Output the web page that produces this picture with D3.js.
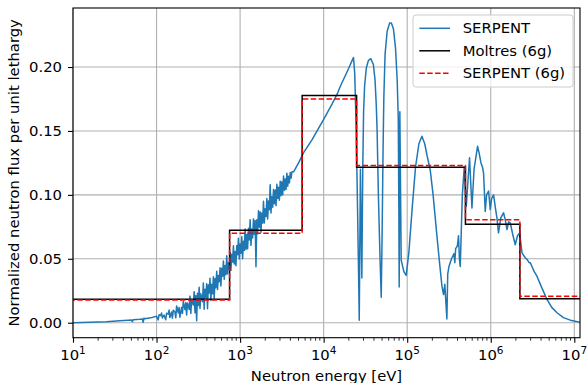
<!DOCTYPE html>
<html>
<head>
<meta charset="utf-8">
<script src="https://cdn.jsdelivr.net/npm/d3@7"></script>
<style>
  body { margin: 0; background: #fff; }
  text { font-family: "DejaVu Sans", sans-serif; }
</style>
</head>
<body>
<div id="chart"></div>
<script>
// continuous SERPENT spectrum (energy given as log10 of eV)
const serpentLog10E = [
  1.00, 1.20, 1.40, 1.56, 1.66, 1.70, 1.71, 1.72, 1.80, 1.83, 1.84, 1.85, 1.86, 1.93,
  2.00, 2.02, 2.03, 2.05, 2.06, 2.07, 2.09, 2.11, 2.12, 2.14, 2.15, 2.16, 2.18, 2.19,
  2.20, 2.22, 2.23, 2.24, 2.26, 2.27, 2.28, 2.30, 2.31, 2.32, 2.34, 2.35, 2.36, 2.37,
  2.39, 2.40, 2.41, 2.42, 2.44, 2.45, 2.46, 2.47, 2.48, 2.49, 2.50, 2.51, 2.52, 2.53,
  2.55, 2.56, 2.57, 2.58, 2.59, 2.60, 2.61, 2.62, 2.63, 2.64, 2.65, 2.66, 2.67, 2.68,
  2.69, 2.70, 2.71, 2.72, 2.73, 2.74, 2.75, 2.76, 2.77, 2.78, 2.79, 2.80, 2.81, 2.82,
  2.83, 2.84, 2.85, 2.86, 2.87, 2.88, 2.89, 2.90, 2.91, 2.92, 2.93, 2.94, 2.95, 2.96,
  2.97, 2.98, 2.99, 3.00, 3.01, 3.02, 3.03, 3.04, 3.05, 3.06, 3.07, 3.08, 3.09, 3.10,
  3.11, 3.12, 3.13, 3.14, 3.15, 3.16, 3.17, 3.18, 3.19, 3.20, 3.21, 3.22, 3.23, 3.24,
  3.25, 3.26, 3.27, 3.28, 3.29, 3.30, 3.31, 3.32, 3.33, 3.34, 3.35, 3.36, 3.37, 3.38,
  3.39, 3.40, 3.41, 3.42, 3.43, 3.44, 3.45, 3.46, 3.47, 3.48, 3.49, 3.50, 3.51, 3.52,
  3.53, 3.54, 3.55, 3.56, 3.57, 3.58, 3.59, 3.60, 3.61, 3.62, 3.64,
  3.70, 3.76, 3.86, 4.00, 4.10, 4.17, 4.20, 4.25, 4.30, 4.34, 4.357,
  4.372, 4.390, 4.408, 4.420, 4.426, 4.440, 4.457, 4.468, 4.478, 4.49, 4.51, 4.535, 4.565,
  4.595, 4.615, 4.63, 4.64, 4.655, 4.675, 4.689, 4.70, 4.71, 4.72, 4.735, 4.76, 4.79, 4.81,
  4.835, 4.86, 4.88, 4.893, 4.900, 4.904, 4.912, 4.928, 4.96, 4.988, 5.02, 5.06, 5.10, 5.14,
  5.176, 5.21, 5.24, 5.275, 5.31, 5.356, 5.39, 5.416, 5.435, 5.45, 5.475, 5.485, 5.50, 5.53,
  5.56, 5.57, 5.58, 5.60, 5.614, 5.625, 5.635, 5.66, 5.683, 5.707, 5.746, 5.775, 5.80, 5.842,
  5.86, 5.883, 5.90, 5.914, 5.934, 5.95, 5.974, 5.994, 6.01, 6.034, 6.055, 6.074, 6.093, 6.12,
  6.153, 6.175, 6.194, 6.215, 6.234, 6.26, 6.293, 6.32, 6.345, 6.374, 6.39, 6.413, 6.44, 6.46,
  6.473, 6.50, 6.52, 6.553, 6.60, 6.673, 6.73, 6.793, 6.87, 6.952, 7.052, 7.10
];
const serpentFlux = [
  0.0000, 0.0003, 0.0008, 0.0016, 0.0020, 0.0022, 0.0008, 0.0024, 0.0028, 0.0030, 0.0004, 0.0036, 0.0031, 0.0038,
  0.0050, 0.0022, 0.0063, 0.0055, 0.0076, 0.0037, 0.0060, 0.0023, 0.0074, 0.0067, 0.0099, 0.0040, 0.0084, 0.0036,
  0.0098, 0.0084, 0.0038, 0.0131, 0.0077, 0.0120, 0.0043, 0.0120, 0.0073, 0.0166, 0.0103, 0.0157, 0.0060, 0.0155,
  0.0104, 0.0208, 0.0073, 0.0178, 0.0138, 0.0243, 0.0078, 0.0212, 0.0016, 0.0230, 0.0134, 0.0278, 0.0112, 0.0226,
  0.0164, 0.0310, 0.0106, 0.0262, 0.0198, 0.0304, 0.0110, 0.0296, 0.0232, 0.0348, 0.0174, 0.0300, 0.0226, 0.0360,
  0.0188, 0.0346, 0.0274, 0.0402, 0.0260, 0.0370, 0.0320, 0.0430, 0.0288, 0.0426, 0.0364, 0.0482, 0.0340, 0.0448,
  0.0376, 0.0524, 0.0382, 0.0470, 0.0418, 0.0550, 0.0408, 0.0536, 0.0474, 0.0602, 0.0460, 0.0558, 0.0446, 0.0604,
  0.0532, 0.0660, 0.0498, 0.0616, 0.0544, 0.0672, 0.0500, 0.0638, 0.0566, 0.0734, 0.0572, 0.0690, 0.0579, 0.0738,
  0.0647, 0.0806, 0.0605, 0.0734, 0.0663, 0.0812, 0.0691, 0.0800, 0.0438, 0.0805, 0.0696, 0.0876, 0.0747, 0.0867,
  0.0708, 0.0858, 0.0779, 0.0950, 0.0780, 0.0891, 0.0831, 0.0972, 0.0812, 0.0953, 0.0883, 0.1080, 0.0858, 0.0986,
  0.0904, 0.1042, 0.0930, 0.1038, 0.0916, 0.1084, 0.0972, 0.1060, 0.0958, 0.1106, 0.0994, 0.1102, 0.1000, 0.1148,
  0.1036, 0.1124, 0.1042, 0.1170, 0.1068, 0.1146, 0.1094, 0.1175, 0.1130, 0.1180, 0.1180,
  0.1250, 0.1330, 0.1430, 0.1590, 0.1710, 0.1800, 0.1850, 0.1920, 0.1990, 0.2050, 0.2075,
  0.1950, 0.1500, 0.0800, 0.0300, 0.0020, 0.1200, 0.0350, 0.1200, 0.1650, 0.1850, 0.1990, 0.2050, 0.2065,
  0.2020, 0.1900, 0.1700, 0.1500, 0.1000, 0.0500, 0.0200, 0.0700, 0.1300, 0.1750, 0.2100, 0.2280, 0.2345, 0.2345,
  0.2300, 0.2150, 0.1900, 0.1600, 0.0900, 0.0280, 0.1650, 0.0490, 0.0400, 0.0370, 0.0550, 0.0900, 0.1220, 0.1400,
  0.1458, 0.1400, 0.1300, 0.1198, 0.1000, 0.0677, 0.0450, 0.0286, 0.0220, 0.0300, 0.0030, 0.0380, 0.0440, 0.0500,
  0.0540, 0.0470, 0.0580, 0.0600, 0.0680, 0.0500, 0.0440, 0.1000, 0.1220, 0.0910, 0.1290, 0.0898, 0.1200, 0.1380,
  0.1330, 0.1250, 0.1220, 0.1170, 0.0870, 0.1000, 0.1030, 0.0885, 0.0970, 0.1000, 0.0900, 0.0820, 0.0703, 0.0820,
  0.0860, 0.0800, 0.0729, 0.0790, 0.0780, 0.0700, 0.0610, 0.0680, 0.0703, 0.0547, 0.0530, 0.0508, 0.0490, 0.0470,
  0.0470, 0.0430, 0.0400, 0.0364, 0.0290, 0.0182, 0.0120, 0.0078, 0.0040, 0.0020, 0.0005, 0.0003
];

// 6-group structure (eV), lowest group first
const groupBounds = [1e-5, 748.5, 5531, 24790, 497900, 2231000, 2e7];
const moltres6g = [0.0184, 0.0723, 0.1778, 0.1216, 0.0770, 0.0188];
const serpent6g = [0.0177, 0.0700, 0.1750, 0.1229, 0.0805, 0.0208];

const xTicks = [1e1, 1e2, 1e3, 1e4, 1e5, 1e6, 1e7];
const yTicks = [0.00, 0.05, 0.10, 0.15, 0.20];
const legendNames = ["SERPENT", "Moltres (6g)", "SERPENT (6g)"];

const width = 588, height = 383;
const margin = { top: 8, right: 8, bottom: 45.3, left: 73 };
const innerW = width - margin.left - margin.right;
const innerH = height - margin.top - margin.bottom;
const fs = 14.8;

const svg = d3.select("#chart").append("svg")
  .attr("width", width)
  .attr("height", height);

const x = d3.scaleLog().domain([10, 1.17e7]).range([0, innerW]);
const y = d3.scaleLinear().domain([-0.01172, 0.24617]).range([innerH, 0]);

const g = svg.append("g")
  .attr("transform", "translate(" + margin.left + "," + margin.top + ")");

g.append("clipPath").attr("id", "clip")
  .append("rect").attr("width", innerW).attr("height", innerH);

// grid
g.append("g").selectAll("line").data(xTicks).enter().append("line")
  .attr("x1", d => x(d)).attr("x2", d => x(d))
  .attr("y1", 0).attr("y2", innerH)
  .attr("stroke", "#b0b0b0").attr("stroke-width", 1.1);
g.append("g").selectAll("line").data(yTicks).enter().append("line")
  .attr("x1", 0).attr("x2", innerW)
  .attr("y1", d => y(d)).attr("y2", d => y(d))
  .attr("stroke", "#b0b0b0").attr("stroke-width", 1.1);

// curves
const plot = g.append("g").attr("clip-path", "url(#clip)");

const serpentPts = serpentLog10E.map((e, i) => [Math.pow(10, e), serpentFlux[i]]);
const line = d3.line().x(d => x(d[0])).y(d => y(d[1]));

plot.append("path")
  .attr("d", line(serpentPts))
  .attr("fill", "none")
  .attr("stroke", "#1f77b4")
  .attr("stroke-width", 1.5)
  .attr("stroke-linejoin", "round");

const stepLine = d3.line().x(d => x(d[0])).y(d => y(d[1])).curve(d3.curveStepAfter);
function stepPts(vals) {
  const pts = vals.map((v, i) => [groupBounds[i], v]);
  pts.push([groupBounds[groupBounds.length - 1], vals[vals.length - 1]]);
  return pts;
}

plot.append("path")
  .attr("d", stepLine(stepPts(moltres6g)))
  .attr("fill", "none")
  .attr("stroke", "#000")
  .attr("stroke-width", 1.5);

plot.append("path")
  .attr("d", stepLine(stepPts(serpent6g)))
  .attr("fill", "none")
  .attr("stroke", "#ff0000")
  .attr("stroke-width", 1.5)
  .attr("stroke-dasharray", "5.5,2.4");

// axes
const xAxis = g.append("g")
  .attr("transform", "translate(0," + innerH + ")")
  .call(d3.axisBottom(x).tickValues(xTicks).tickSize(5).tickFormat(""));
xAxis.select(".domain").remove();

const minor = [];
for (let k = 1; k <= 7; k++) {
  for (let m = 2; m <= 9; m++) {
    const v = m * Math.pow(10, k);
    if (v < 1.17e7) minor.push(v);
  }
}
xAxis.selectAll(".minor").data(minor).enter().append("line")
  .attr("class", "minor")
  .attr("x1", d => x(d)).attr("x2", d => x(d))
  .attr("y1", 0).attr("y2", 3)
  .attr("stroke", "#000").attr("stroke-width", 0.8);

xAxis.selectAll(".tick line").attr("stroke-width", 1.1);

const xLab = xAxis.selectAll(".xlab").data(xTicks).enter().append("text")
  .attr("class", "xlab")
  .attr("x", d => x(d))
  .attr("y", 22.3)
  .attr("text-anchor", "middle")
  .attr("fill", "#000")
  .attr("font-size", fs);
xLab.append("tspan").text("10");
xLab.append("tspan")
  .attr("dy", -5.5)
  .attr("font-size", 10.5)
  .text(d => Math.round(Math.log10(d)));

const yAxis = g.append("g")
  .call(d3.axisLeft(y).tickValues(yTicks).tickSize(5).tickPadding(6).tickFormat(d3.format(".2f")));
yAxis.select(".domain").remove();
yAxis.selectAll(".tick line").attr("stroke-width", 1.1);
yAxis.selectAll(".tick text")
  .attr("font-size", fs)
  .attr("font-family", "DejaVu Sans")
  .attr("fill", "#000");

// frame
g.append("rect")
  .attr("width", innerW).attr("height", innerH)
  .attr("fill", "none")
  .attr("stroke", "#000")
  .attr("stroke-width", 1.1);

// axis titles
svg.append("text")
  .attr("x", margin.left + innerW / 2)
  .attr("y", 381)
  .attr("text-anchor", "middle")
  .attr("font-size", fs)
  .text("Neutron energy [eV]");

svg.append("text")
  .attr("transform", "translate(19," + (margin.top + innerH / 2) + ")rotate(-90)")
  .attr("text-anchor", "middle")
  .attr("font-size", fs)
  .text("Normalized neutron flux per unit lethargy");

// legend
const legend = svg.append("g").attr("transform", "translate(413,15)");
legend.append("rect")
  .attr("width", 160).attr("height", 72)
  .attr("rx", 3)
  .attr("fill", "#fff").attr("fill-opacity", 0.8)
  .attr("stroke", "#cccccc").attr("stroke-width", 1);

const legendStyle = [
  { color: "#1f77b4", dash: null },
  { color: "#000", dash: null },
  { color: "#ff0000", dash: "5.5,2.4" }
];
const item = legend.selectAll(".item").data(legendNames).enter().append("g")
  .attr("class", "item")
  .attr("transform", (d, i) => "translate(0," + (13.3 + i * 22.5) + ")");
item.append("line")
  .attr("x1", 6.3).attr("x2", 37)
  .attr("stroke", (d, i) => legendStyle[i].color)
  .attr("stroke-width", 1.5)
  .attr("stroke-dasharray", (d, i) => legendStyle[i].dash);
item.append("text")
  .attr("x", 49.7)
  .attr("dy", "0.35em")
  .attr("font-size", fs)
  .text(d => d);
</script>
</body>
</html>
